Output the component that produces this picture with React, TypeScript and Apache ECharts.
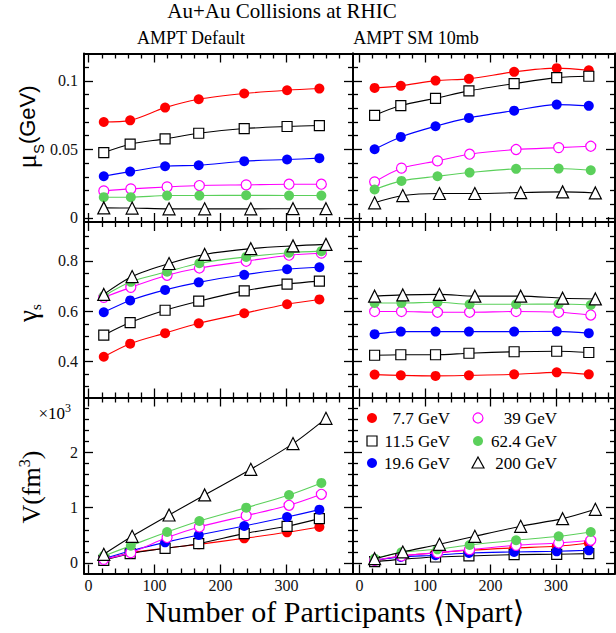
import React, { useEffect, useRef } from "react";
import * as echarts from "echarts";

// ---------------- data ----------------
const energies = ["7.7 GeV", "11.5 GeV", "19.6 GeV", "39 GeV", "62.4 GeV", "200 GeV"];

// Npart per centrality class (x values)
const npartLow = [23, 63, 116, 167, 236, 301, 350]; // 7.7, 11.5, 19.6 GeV
const npartMid = [23, 64, 119, 168, 239, 304, 353]; // 39, 62.4 GeV
const npart200 = [23, 66, 122, 176, 246, 310, 360]; // 200 GeV

// mu_S (GeV), AMPT Default — rows follow `energies`
const muSDefault = [
  [0.070, 0.0712, 0.0805, 0.0866, 0.0908, 0.0932, 0.0944],
  [0.0477, 0.0538, 0.0577, 0.0618, 0.0652, 0.0667, 0.0674],
  [0.0304, 0.0338, 0.0377, 0.0384, 0.0414, 0.0426, 0.0436],
  [0.0197, 0.0212, 0.0226, 0.0236, 0.0241, 0.0246, 0.0246],
  [0.0151, 0.0151, 0.0163, 0.0163, 0.0165, 0.0163, 0.0163],
  [0.0073, 0.0072, 0.0066, 0.0066, 0.0066, 0.0067, 0.0067],
];
// mu_S (GeV), AMPT SM 10mb
const muSSM = [
  [0.0949, 0.0964, 0.1002, 0.1015, 0.1066, 0.1093, 0.1078],
  [0.0749, 0.082, 0.0873, 0.0927, 0.098, 0.1024, 0.1034],
  [0.0501, 0.0591, 0.0669, 0.073, 0.0783, 0.0827, 0.0818],
  [0.0263, 0.0363, 0.0416, 0.0465, 0.0499, 0.0513, 0.0523],
  [0.0207, 0.027, 0.0304, 0.0331, 0.0358, 0.036, 0.0348],
  [0.011, 0.0163, 0.0178, 0.0178, 0.0185, 0.019, 0.0182],
];
// gamma_s, AMPT Default
const gammaDefault = [
  [0.419, 0.471, 0.513, 0.552, 0.592, 0.628, 0.647],
  [0.505, 0.555, 0.604, 0.64, 0.681, 0.708, 0.72],
  [0.596, 0.643, 0.685, 0.715, 0.745, 0.767, 0.775],
  [0.655, 0.695, 0.743, 0.772, 0.799, 0.823, 0.831],
  [0.66, 0.717, 0.757, 0.791, 0.816, 0.833, 0.839],
  [0.667, 0.738, 0.79, 0.826, 0.849, 0.86, 0.866],
];
// gamma_s, AMPT SM 10mb
const gammaSM = [
  [0.348, 0.345, 0.343, 0.345, 0.349, 0.357, 0.349],
  [0.425, 0.427, 0.427, 0.433, 0.439, 0.441, 0.436],
  [0.509, 0.519, 0.519, 0.519, 0.519, 0.52, 0.513],
  [0.599, 0.599, 0.596, 0.596, 0.599, 0.596, 0.585],
  [0.633, 0.633, 0.636, 0.628, 0.628, 0.629, 0.625],
  [0.66, 0.665, 0.667, 0.66, 0.66, 0.652, 0.649],
];
// V (fm^3), AMPT Default
const volDefault = [
  [60, 181, 265, 337, 446, 554, 651],
  [48, 169, 265, 349, 530, 663, 801],
  [78, 217, 373, 506, 669, 831, 964],
  [66, 187, 460, 651, 855, 1042, 1241],
  [127, 313, 560, 759, 1000, 1229, 1446],
  [157, 482, 867, 1229, 1693, 2157, 2614],
];
// V (fm^3), AMPT SM 10mb
const volSM = [
  [36, 127, 181, 229, 271, 301, 361],
  [24, 66, 108, 127, 151, 157, 169],
  [48, 108, 139, 181, 199, 211, 229],
  [48, 127, 187, 241, 319, 361, 410],
  [78, 193, 247, 325, 410, 482, 560],
  [78, 199, 337, 482, 663, 801, 970],
];

// tick values
const xTicks = [0, 100, 200, 300];
const xMinorTicks = [20, 40, 60, 80, 120, 140, 160, 180, 220, 240, 260, 280, 320, 340, 360, 380];
const muTicks = [0, 0.05, 0.1];
const muMinorTicks = [0.01, 0.02, 0.03, 0.04, 0.06, 0.07, 0.08, 0.09, 0.11];
const gammaTicks = [0.4, 0.6, 0.8];
const gammaMinorTicks = [0.3, 0.35, 0.45, 0.5, 0.55, 0.65, 0.7, 0.75, 0.85, 0.9];
const volTicks = [0, 1000, 2000];
const volMinorTicks = [200, 400, 600, 800, 1200, 1400, 1600, 1800, 2200, 2400, 2600, 2800];

// ---------------- styling / layout ----------------
const SERIF = '"Liberation Serif", "Times New Roman", "DejaVu Serif", serif';
const SANS = '"Liberation Sans", Arial, "DejaVu Sans", sans-serif';
const colors = ["#ff0000", "#000000", "#0000ff", "#ff00ff", "#5bd05b", "#000000"];
const symbols = ["circle", "rect", "circle", "circle", "circle", "triangle"];
const filled = [true, false, true, false, true, false];
const symbolSizes = [10, 10, 10, 10, 10, 12];

const colRects = [
  { left: 84, width: 269 },
  { left: 353, width: 262 },
];
const rowRects = [
  { top: 53.5, height: 168.5 },
  { top: 222, height: 175.5 },
  { top: 397.5, height: 176 },
];
const xRanges = [
  [-7, 401],
  [-10, 390],
];
const yRanges = [
  [-0.003, 0.12],
  [0.257, 0.955],
  [-190, 2990],
];
const yMajor = [muTicks, gammaTicks, volTicks];
const yMinor = [muMinorTicks, gammaMinorTicks, volMinorTicks];
const yFormat = [
  (v: number) => (v === 0 ? "0" : String(v)),
  (v: number) => v.toFixed(1),
  (v: number) => String(v / 1000),
];

const panels = [
  { data: muSDefault, row: 0, col: 0 },
  { data: muSSM, row: 0, col: 1 },
  { data: gammaDefault, row: 1, col: 0 },
  { data: gammaSM, row: 1, col: 1 },
  { data: volDefault, row: 2, col: 0 },
  { data: volSM, row: 2, col: 1 },
];

function npartFor(i: number) {
  if (i < 3) return npartLow;
  if (i < 5) return npartMid;
  return npart200;
}

const frameLine = { color: "#000", width: 2 };
const tickLine = { color: "#000", width: 1.3 };
const MAJOR = 9;
const MINOR = 5;

function buildOption() {
  const grid: any[] = [];
  const xAxis: any[] = [];
  const yAxis: any[] = [];
  const series: any[] = [];

  panels.forEach((p, g) => {
    const c = colRects[p.col];
    const r = rowRects[p.row];
    grid.push({ left: c.left, top: r.top, width: c.width, height: r.height, outerBoundsMode: "none" });

    const [xmin, xmax] = xRanges[p.col];
    const [ymin, ymax] = yRanges[p.row];
    const xBase = { type: "value", gridIndex: g, min: xmin, max: xmax, splitLine: { show: false } };
    const yBase = { type: "value", gridIndex: g, min: ymin, max: ymax, splitLine: { show: false } };
    const showX = p.row === 2;
    const showY = p.col === 0;
    const labelStyle = { color: "#111", fontFamily: SERIF, fontSize: 16 };

    ["bottom", "top"].forEach((pos) => {
      xAxis.push({
        ...xBase,
        position: pos,
        axisLine: { show: true, onZero: false, lineStyle: frameLine },
        axisTick: { show: true, inside: true, length: MAJOR, customValues: xTicks, lineStyle: tickLine },
        axisLabel: pos === "bottom" && showX
          ? { show: true, customValues: xTicks, margin: 4, ...labelStyle }
          : { show: false },
      });
      xAxis.push({
        ...xBase,
        position: pos,
        axisLine: { show: false, onZero: false },
        axisTick: { show: true, inside: true, length: MINOR, customValues: xMinorTicks, lineStyle: tickLine },
        axisLabel: { show: false },
      });
    });
    ["left", "right"].forEach((pos) => {
      yAxis.push({
        ...yBase,
        position: pos,
        axisLine: { show: true, onZero: false, lineStyle: frameLine },
        axisTick: { show: true, inside: true, length: MAJOR, customValues: yMajor[p.row], lineStyle: tickLine },
        axisLabel: pos === "left" && showY
          ? { show: true, customValues: yMajor[p.row], margin: 6, formatter: yFormat[p.row], ...labelStyle }
          : { show: false },
      });
      yAxis.push({
        ...yBase,
        position: pos,
        axisLine: { show: false, onZero: false },
        axisTick: { show: true, inside: true, length: MINOR, customValues: yMinor[p.row], lineStyle: tickLine },
        axisLabel: { show: false },
      });
    });

    p.data.forEach((vals, i) => {
      const xs = npartFor(i);
      const col = colors[i];
      series.push({
        type: "line",
        name: energies[i],
        xAxisIndex: g * 4,
        yAxisIndex: g * 4,
        data: vals.map((v, k) => [xs[k], v]),
        smooth: 0.3,
        symbol: symbols[i],
        symbolSize: symbolSizes[i],
        showAllSymbol: true,
        lineStyle: { color: col, width: 1.1 },
        itemStyle: filled[i]
          ? { color: col, borderWidth: 0 }
          : { color: "#ffffff", borderColor: col, borderWidth: 1.2 },
        emphasis: { disabled: true },
        z: 3 + i,
      });
    });
  });

  // ---- texts & legend (graphic) ----
  const graphic: any[] = [];
  const txt = (text: string, x: number, y: number, font: string) => ({
    type: "text",
    x,
    y,
    silent: true,
    style: {
      text,
      font,
      fill: "#000",
      align: "center",
      verticalAlign: "middle",
      textAlign: "center",
      textVerticalAlign: "middle",
    },
  });

  graphic.push(txt("Au+Au Collisions at RHIC", 282, 11, `21px ${SERIF}`));
  graphic.push(txt("AMPT Default", 191, 38, `18px ${SERIF}`));
  graphic.push(txt("AMPT SM 10mb", 416, 38, `18px ${SERIF}`));
  graphic.push(txt("Number of Participants \u27E8Npart\u27E9", 335, 611, `30px ${SERIF}`));

  // y-axis titles (rotated, rich text)
  graphic.push({
    type: "text",
    x: 27,
    y: 127,
    rotation: Math.PI / 2,
    silent: true,
    style: {
      text: "{a|\u03BC}{b|S}{c|(GeV)}",
      align: "center",
      verticalAlign: "middle",
      textAlign: "center",
      textVerticalAlign: "middle",
      rich: {
        a: { fontFamily: SERIF, fontSize: 27, fill: "#000", verticalAlign: "middle", lineHeight: 30 },
        b: { fontFamily: SANS, fontSize: 15, fill: "#000", verticalAlign: "bottom", lineHeight: 30, padding: [0, 0, -4, 0] },
        c: { fontFamily: SANS, fontSize: 22, fill: "#000", verticalAlign: "middle", lineHeight: 30 },
      },
    },
  });
  graphic.push({
    type: "text",
    x: 28,
    y: 313,
    rotation: Math.PI / 2,
    silent: true,
    style: {
      text: "{a|\u03B3}{b|s}",
      align: "center",
      verticalAlign: "middle",
      textAlign: "center",
      textVerticalAlign: "middle",
      rich: {
        a: { fontFamily: SERIF, fontSize: 27, fill: "#000", verticalAlign: "middle", lineHeight: 30 },
        b: { fontFamily: SERIF, fontSize: 15, fill: "#000", verticalAlign: "bottom", lineHeight: 30 },
      },
    },
  });
  graphic.push({
    type: "text",
    x: 31,
    y: 487,
    rotation: Math.PI / 2,
    silent: true,
    style: {
      text: "{a|V(fm}{b|3}{a|)}",
      align: "center",
      verticalAlign: "middle",
      textAlign: "center",
      textVerticalAlign: "middle",
      rich: {
        a: { fontFamily: SERIF, fontSize: 26, fill: "#000", verticalAlign: "middle", lineHeight: 30 },
        b: { fontFamily: SERIF, fontSize: 16, fill: "#000", verticalAlign: "top", lineHeight: 30 },
      },
    },
  });
  graphic.push({
    type: "text",
    x: 71,
    y: 412,
    silent: true,
    style: {
      text: "{a|\u00D710}{b|3}",
      align: "right",
      verticalAlign: "middle",
      textAlign: "right",
      textVerticalAlign: "middle",
      rich: {
        a: { fontFamily: SERIF, fontSize: 17, fill: "#000", verticalAlign: "bottom", lineHeight: 20 },
        b: { fontFamily: SERIF, fontSize: 12, fill: "#000", verticalAlign: "top", lineHeight: 20 },
      },
    },
  });

  // legend
  const legRowY = [418, 441, 463];
  const legSymX = [372, 478];
  const legTextRight = [450, 557];
  energies.forEach((name, i) => {
    const row = i % 3;
    const col = Math.floor(i / 3);
    const cx = legSymX[col];
    const cy = legRowY[row];
    const c = colors[i];
    const fill = filled[i] ? c : "#fff";
    if (symbols[i] === "circle") {
      graphic.push({ type: "circle", silent: true, shape: { cx, cy, r: 5 }, style: { fill, stroke: c, lineWidth: filled[i] ? 0 : 1.2 } });
    } else if (symbols[i] === "rect") {
      graphic.push({ type: "rect", silent: true, shape: { x: cx - 5, y: cy - 5, width: 10, height: 10 }, style: { fill, stroke: c, lineWidth: 1.2 } });
    } else {
      graphic.push({
        type: "polygon",
        silent: true,
        shape: { points: [[cx, cy - 6], [cx + 6, cy + 5], [cx - 6, cy + 5]] },
        style: { fill, stroke: c, lineWidth: 1.2 },
      });
    }
    graphic.push({
      type: "text",
      x: legTextRight[col],
      y: cy,
      silent: true,
      style: {
        text: name,
        font: `17px ${SERIF}`,
        fill: "#000",
        align: "right",
        verticalAlign: "middle",
        textAlign: "right",
        textVerticalAlign: "middle",
      },
    });
  });

  return {
    animation: false,
    backgroundColor: "#ffffff",
    textStyle: { fontFamily: SERIF },
    grid,
    xAxis,
    yAxis,
    series,
    graphic,
  };
}

export default function App() {
  const ref = useRef<HTMLDivElement>(null);
  useEffect(() => {
    if (!ref.current) return;
    const chart = echarts.init(ref.current, undefined, { renderer: "svg" });
    chart.setOption(buildOption() as any);
    return () => chart.dispose();
  }, []);
  return (
    <div
      ref={ref}
      style={{ position: "absolute", left: 0, top: 0, width: 616, height: 633, background: "#fff" }}
    />
  );
}
